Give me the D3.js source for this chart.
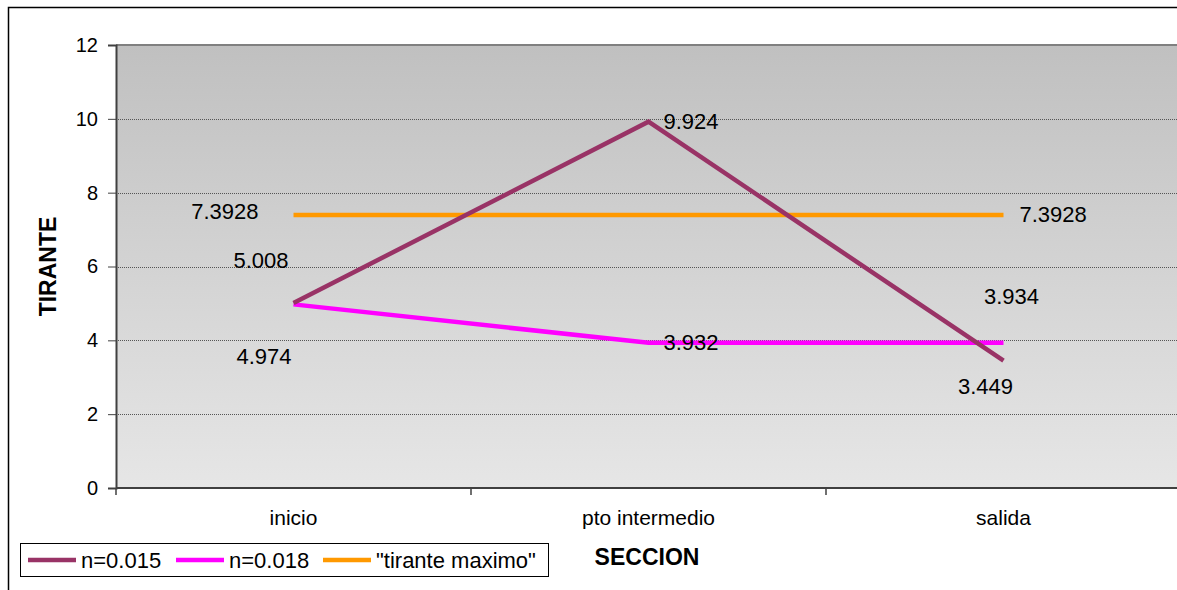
<!DOCTYPE html>
<html>
<head>
<meta charset="utf-8">
<script src="https://cdn.jsdelivr.net/npm/d3@7"></script>
<style>
  html, body { margin: 0; padding: 0; background: #fff; }
  svg { display: block; font-family: "Liberation Sans", Arial, sans-serif; }
</style>
</head>
<body>
<svg id="chart" width="1177" height="590"></svg>
<script>
// Sections along the channel
const categories = ["inicio", "pto intermedio", "salida"];

// Water depth (tirante) per section for each roughness
const seriesN015 = [5.008, 9.924, 3.449];
const seriesN018 = [4.974, 3.932, 3.934];
const seriesMax  = [7.3928, 7.3928, 7.3928];

const seriesNames = ["n=0.015", "n=0.018", "\"tirante maximo\""];
const seriesColors = ["#993366", "#ff00ff", "#ff9900"];

const yTicks = [0, 2, 4, 6, 8, 10, 12];

// Label placement per point, relative to the point (null = no label)
const labelPlacement = [
  [{dx: -5, dy: -35, anchor: "end"}, {dx: 15, dy: 7, anchor: "start"}, {dx: -18, dy: 33, anchor: "middle"}],
  [{dx: -2, dy: 60, anchor: "end"}, {dx: 15, dy: 7, anchor: "start"}, {dx: 8, dy: -39, anchor: "middle"}],
  [{dx: -35, dy: 4, anchor: "end"}, null, {dx: 16, dy: 7, anchor: "start"}]
];

const svg = d3.select("#chart");
const W = 1177, H = 590;
const plot = {left: 116, top: 45, bottom: 488, band: 355};

// outer chart frame
svg.append("rect").attr("x", 8.5).attr("y", 7.5).attr("width", W + 20).attr("height", H + 20)
  .attr("fill", "#fff").attr("stroke", "#000").attr("stroke-width", 1.5);

const x = d3.scaleBand().domain(categories)
  .range([plot.left, plot.left + plot.band * categories.length]).padding(0);
const y = d3.scaleLinear().domain([0, 12]).range([plot.bottom, plot.top]);

const defs = svg.append("defs");
const grad = defs.append("linearGradient").attr("id", "bg").attr("x1", 0).attr("y1", 0).attr("x2", 0).attr("y2", 1);
grad.append("stop").attr("offset", "0%").attr("stop-color", "#c0c0c0");
grad.append("stop").attr("offset", "100%").attr("stop-color", "#e6e6e6");

const plotRight = plot.left + plot.band * categories.length;
svg.append("rect").attr("x", plot.left).attr("y", plot.top)
  .attr("width", plotRight - plot.left).attr("height", plot.bottom - plot.top)
  .attr("fill", "url(#bg)");
// plot area top border
svg.append("line").attr("x1", plot.left).attr("x2", plotRight)
  .attr("y1", plot.top).attr("y2", plot.top).attr("stroke", "#808080").attr("stroke-width", 2);

// horizontal gridlines
svg.append("g").selectAll("line").data(yTicks.filter(d => d > 0 && d < 12)).join("line")
  .attr("x1", plot.left).attr("x2", plotRight)
  .attr("y1", d => Math.round(y(d)) + 0.5).attr("y2", d => Math.round(y(d)) + 0.5)
  .attr("stroke", "#555").attr("stroke-width", 1).attr("stroke-dasharray", "1,1");

// y axis
const yAxis = d3.axisLeft(y).tickValues(yTicks).tickSize(8).tickPadding(10).tickFormat(d3.format("d"));
const gy = svg.append("g").attr("transform", `translate(${plot.left},0)`).call(yAxis);
gy.select(".domain").attr("stroke", "#404040").attr("stroke-width", 2);
gy.selectAll(".tick line").attr("stroke", "#404040");
gy.selectAll(".tick text").attr("font-size", 20).attr("fill", "#000")
  .attr("font-family", "Liberation Sans, Arial, sans-serif");

// x axis (ticks at band boundaries)
svg.append("line").attr("x1", plot.left).attr("x2", plotRight)
  .attr("y1", plot.bottom).attr("y2", plot.bottom).attr("stroke", "#404040").attr("stroke-width", 2);
const bounds = categories.map(c => x(c)).concat([plotRight]);
svg.append("g").selectAll("line").data(bounds).join("line")
  .attr("x1", d => d).attr("x2", d => d)
  .attr("y1", plot.bottom).attr("y2", plot.bottom + 7)
  .attr("stroke", "#404040").attr("stroke-width", 1.5);
svg.append("g").selectAll("text").data(categories).join("text")
  .attr("x", d => x(d) + x.bandwidth() / 2).attr("y", 525)
  .attr("text-anchor", "middle").attr("font-size", 21).text(d => d);

// axis titles
svg.append("text").attr("transform", `translate(56,${(plot.top + plot.bottom) / 2}) rotate(-90)`)
  .attr("text-anchor", "middle").attr("font-size", 23).attr("font-weight", "bold").text("TIRANTE");
svg.append("text").attr("x", 647).attr("y", 565).attr("text-anchor", "middle")
  .attr("font-size", 23).attr("font-weight", "bold").text("SECCION");

// series lines
const allSeries = [seriesN015, seriesN018, seriesMax];
const line = d3.line().x((d, i) => x(categories[i]) + x.bandwidth() / 2).y(d => y(d));
const drawOrder = [2, 1, 0];
drawOrder.forEach(si => {
  svg.append("path").datum(allSeries[si]).attr("d", line)
    .attr("fill", "none").attr("stroke", seriesColors[si]).attr("stroke-width", 4.5)
    .attr("stroke-linejoin", "miter");
});

// data labels
allSeries.forEach((vals, si) => {
  vals.forEach((v, i) => {
    const p = labelPlacement[si][i];
    if (!p) return;
    svg.append("text")
      .attr("x", x(categories[i]) + x.bandwidth() / 2 + p.dx)
      .attr("y", y(v) + p.dy)
      .attr("text-anchor", p.anchor).attr("font-size", 22).text(String(v));
  });
});

// legend
const lg = svg.append("g");
lg.append("rect").attr("x", 20.5).attr("y", 543.5).attr("width", 528).attr("height", 33)
  .attr("fill", "#fff").attr("stroke", "#000").attr("stroke-width", 1);
const legendX = [28, 176, 323];
seriesNames.forEach((name, i) => {
  lg.append("line").attr("x1", legendX[i]).attr("x2", legendX[i] + 48)
    .attr("y1", 560).attr("y2", 560).attr("stroke", seriesColors[i]).attr("stroke-width", 4.5);
  lg.append("text").attr("x", legendX[i] + 53).attr("y", 568).attr("font-size", 22).text(name);
});
</script>
</body>
</html>
